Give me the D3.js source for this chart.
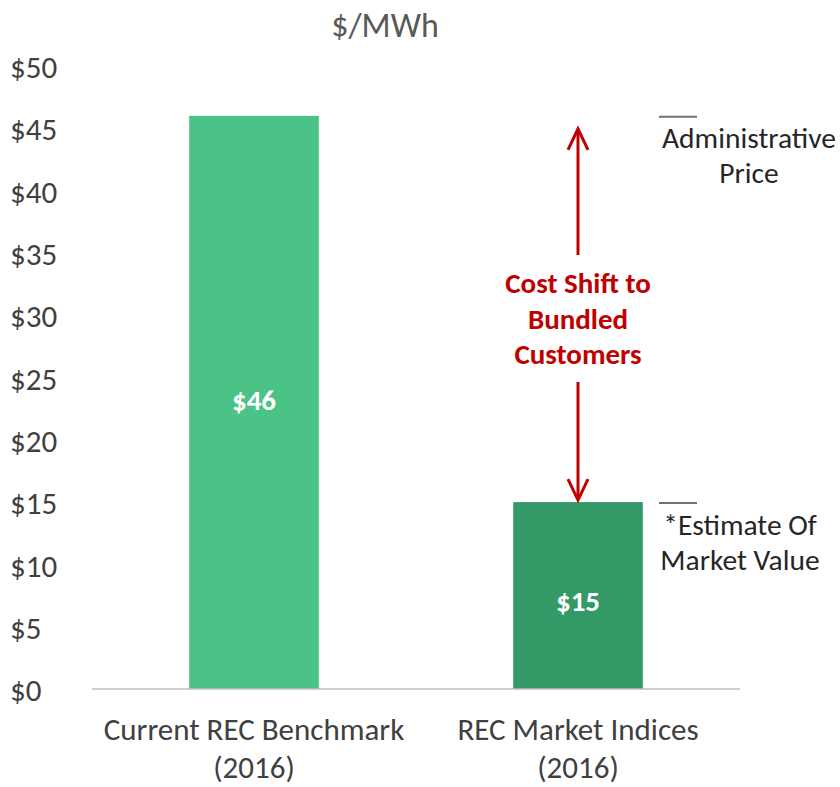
<!DOCTYPE html>
<html><head><meta charset="utf-8">
<script src="https://cdn.jsdelivr.net/npm/d3@7"></script>
<style>body{margin:0;background:#fff}svg{display:block}text{font-family:Carlito,Lato,"Open Sans",sans-serif}</style>
</head><body>
<svg id="chart" width="840" height="787"></svg>
<script>
const categories = ["Current REC Benchmark|(2016)", "REC Market Indices|(2016)"];
const values = [46, 15];
const valueLabels = ["$46", "$15"];
const yTicks = [0, 5, 10, 15, 20, 25, 30, 35, 40, 45, 50];
const barColors = ["#4bc386", "#339966"];
const annotations = [{value: 46, lines: ["Administrative", "Price"]}, {value: 15, lines: ["*Estimate Of", "Market Value"]}];
const arrowText = ["Cost Shift to", "Bundled", "Customers"];

const svg = d3.select("#chart");
const y = d3.scaleLinear().domain([0, 50]).range([689, 66]);
const x = d3.scaleBand().domain(categories).range([92, 740]).paddingInner(0.6).paddingOuter(0.3);

// y tick labels
svg.append("g").selectAll("text").data(yTicks).join("text")
  .attr("x", 10).attr("y", d => y(d) + 1).attr("dy", "0.36em")
  .attr("font-size", 31).attr("fill", "#404040").text(d => "$" + d);

// title
svg.append("text").attr("x", 385).attr("y", 25).attr("dy", "0.36em").attr("text-anchor", "middle")
  .attr("font-size", 34).attr("fill", "#595959").text("$/MWh");

// bars
svg.append("g").selectAll("rect").data(values).join("rect")
  .attr("x", (d, i) => x(categories[i])).attr("width", x.bandwidth())
  .attr("y", d => y(d)).attr("height", d => y(0) - y(d))
  .attr("fill", (d, i) => barColors[i]);

// value labels
svg.append("g").selectAll("text").data(values).join("text")
  .attr("x", (d, i) => x(categories[i]) + x.bandwidth() / 2)
  .attr("y", d => y(d / 2) + (d < 20 ? 5 : -3)).attr("dy", "0.36em")
  .attr("text-anchor", "middle").attr("font-size", 29).attr("font-weight", "bold")
  .attr("fill", "#fff").text((d, i) => valueLabels[i]);

// baseline
svg.append("line").attr("x1", 92).attr("x2", 740).attr("y1", y(0)).attr("y2", y(0))
  .attr("stroke", "#bfbfbf").attr("stroke-width", 1.5);

// category labels
const cat = svg.append("g").selectAll("text").data(categories).join("text")
  .attr("text-anchor", "middle").attr("font-size", 31).attr("fill", "#404040");
cat.selectAll("tspan").data(d => d.split("|").map(t => ({t, c: d}))).join("tspan")
  .attr("x", d => x(d.c) + x.bandwidth() / 2)
  .attr("y", (d, i) => 729 + i * 38).attr("dy", "0.36em").text(d => d.t);

// annotation markers and text
annotations.forEach(a => {
  svg.append("line").attr("x1", 659).attr("x2", 697).attr("y1", y(a.value) + 1).attr("y2", y(a.value) + 1)
    .attr("stroke", "#767171").attr("stroke-width", 2);
  a.lines.forEach((l, i) => {
    svg.append("text").attr("x", a.value > 30 ? 749 : 740).attr("y", y(a.value) + 22 + i * 35).attr("dy", "0.36em")
      .attr("text-anchor", "middle").attr("font-size", 29.5).attr("fill", "#262626").text(l);
  });
});

// arrows
const ax = x(categories[1]) + x.bandwidth() / 2;
const red = "#c00000";
const topY = y(values[0]) + 13, botY = y(values[1]) - 2;
svg.append("line").attr("x1", ax).attr("x2", ax).attr("y1", topY + 2).attr("y2", 255).attr("stroke", red).attr("stroke-width", 3);
svg.append("path").attr("d", `M${ax - 10},${topY + 21}L${ax},${topY}L${ax + 10},${topY + 21}`).attr("fill", "none").attr("stroke", red).attr("stroke-width", 3);
svg.append("line").attr("x1", ax).attr("x2", ax).attr("y1", 382).attr("y2", botY - 2).attr("stroke", red).attr("stroke-width", 3);
svg.append("path").attr("d", `M${ax - 10},${botY - 21}L${ax},${botY}L${ax + 10},${botY - 21}`).attr("fill", "none").attr("stroke", red).attr("stroke-width", 3);
arrowText.forEach((t, i) => {
  svg.append("text").attr("x", ax).attr("y", 283 + i * 35.5).attr("dy", "0.36em").attr("text-anchor", "middle")
    .attr("font-size", 29).attr("font-weight", "bold").attr("fill", red).text(t);
});
</script>
</body></html>
